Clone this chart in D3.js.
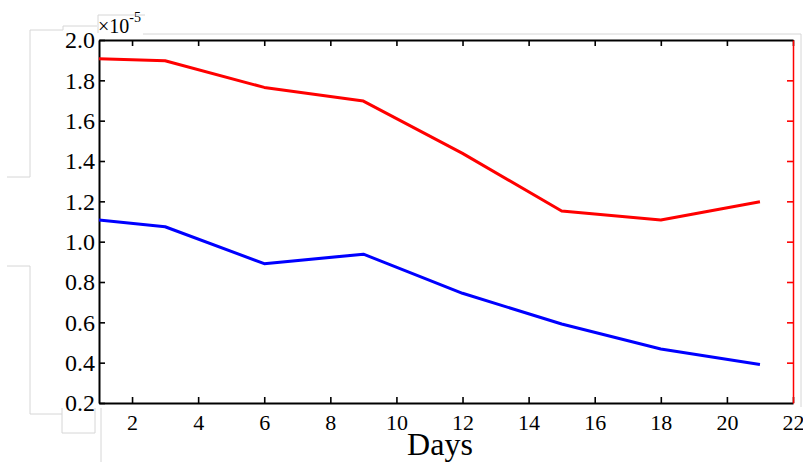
<!DOCTYPE html>
<html>
<head>
<meta charset="utf-8">
<script src="https://cdn.jsdelivr.net/npm/d3@7"></script>
<style>
	body{margin:0;background:#fff;}
	svg{display:block;font-family:"Liberation Serif","Times New Roman",serif;}
</style>
</head>
<body>
<svg id="chart" width="803" height="462"></svg>
<script>
/** data (values in units of 1e-5) */
var days = [1, 3, 6, 9, 12, 15, 18, 21];
var redSeries = [1.907, 1.897, 1.765, 1.697, 1.438, 1.152, 1.107, 1.198];
var blueSeries = [1.107, 1.074, 0.891, 0.938, 0.744, 0.592, 0.468, 0.391];
var xTicks = [2, 4, 6, 8, 10, 12, 14, 16, 18, 20, 22];
var yTicks = [0.2, 0.4, 0.6, 0.8, 1.0, 1.2, 1.4, 1.6, 1.8, 2.0];
var rightTicks = [0.4, 0.6, 0.8, 1.0, 1.2, 1.4, 1.6, 1.8];
var xLabel = "Days";

var svg = d3.select('#chart');
var plotLeft = 99, plotRight = 793, plotTop = 40, plotBottom = 403;

var x = d3.scaleLinear().domain([1, 22]).range([plotLeft, plotRight]);
var y = d3.scaleLinear().domain([0.2, 2.0]).range([plotBottom, plotTop]);

// faint leftovers of the original figure frame
svg.append("path")
	.attr("d", "M7,177H30V30H63V26H97 M98,33V15H145 M143,34H801V407 M7,266H30V414H62 M62,408V433H95V408 M101,408V462")
	.attr("fill", "none")
	.attr("stroke", "#d6d6d6")
	.attr("stroke-width", 1);

/** style an axis group: coloured lines, serif labels */
function styleAxis(g, color, size){
	g.attr("font-size", null).attr("font-family", null);
	g.select(".domain").attr("stroke", color).attr("stroke-width", 2);
	g.selectAll(".tick line").attr("stroke", color).attr("stroke-width", 1.6);
	g.selectAll("text").attr("fill", "#000").style("font-size", size + "px");
}

var gx = svg.append("g")
	.attr("transform", "translate(0," + plotBottom + ")")
	.call(d3.axisBottom(x).tickValues(xTicks).tickSizeInner(-6).tickSizeOuter(0).tickPadding(11).tickFormat(d3.format("d")));
styleAxis(gx, "#000", 22);

var gt = svg.append("g")
	.attr("transform", "translate(0," + plotTop + ")")
	.call(d3.axisTop(x).tickValues(xTicks).tickSizeInner(-6).tickSizeOuter(0).tickFormat(""));
styleAxis(gt, "#000", 22);

var gy = svg.append("g")
	.attr("transform", "translate(" + plotLeft + ",0)")
	.call(d3.axisLeft(y).tickValues(yTicks).tickSizeInner(-6).tickSizeOuter(0).tickPadding(4).tickFormat(d3.format(".1f")));
styleAxis(gy, "#000", 24);

var gr = svg.append("g")
	.attr("transform", "translate(" + plotRight + ",0)")
	.call(d3.axisRight(y).tickValues(rightTicks).tickSizeInner(-6).tickSizeOuter(0).tickFormat(""));
styleAxis(gr, "#ff0000", 22);
gr.select(".domain").attr("stroke-width", 1.5);

// series lines
var line = d3.line()
	.x(function(d){ return x(d[0]); })
	.y(function(d){ return y(d[1]); });

[[redSeries, "#ff0000"], [blueSeries, "#0000ff"]].forEach(function(s){
	svg.append("path")
		.datum(d3.zip(days, s[0]))
		.attr("d", line)
		.attr("fill", "none")
		.attr("stroke", s[1])
		.attr("stroke-width", 3)
		.attr("stroke-linejoin", "round");
});

// exponent label
var expo = svg.append("text")
	.attr("x", plotLeft - 1)
	.attr("y", 33)
	.style("font-size", "20px")
	.attr("fill", "#000");
expo.append("tspan").text("\u00d710");
expo.append("tspan").attr("dy", -11).style("font-size", "14px").text("-5");

// x axis title
svg.append("text")
	.attr("x", 440)
	.attr("y", 455)
	.attr("text-anchor", "middle")
	.style("font-size", "32px")
	.attr("fill", "#000")
	.text(xLabel);
</script>
</body>
</html>
